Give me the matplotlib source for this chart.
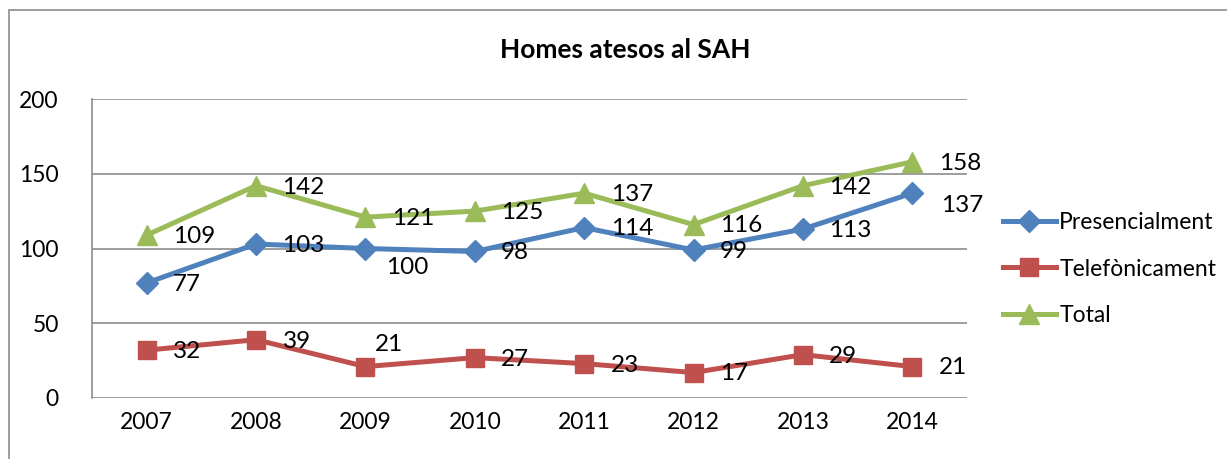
import matplotlib.pyplot as plt
from matplotlib.patches import Rectangle

plt.rcParams['font.family'] = ['Lato', 'DejaVu Sans']

years = ['2007', '2008', '2009', '2010', '2011', '2012', '2013', '2014']
presencial = [77, 103, 100, 98, 114, 99, 113, 137]
telefonic = [32, 39, 21, 27, 23, 17, 29, 21]
total = [109, 142, 121, 125, 137, 116, 142, 158]

W, H = 1227, 459
fig = plt.figure(figsize=(W / 100, H / 100), dpi=100)
ax = fig.add_axes([92 / W, 1 - 398 / H, (967 - 92) / W, (398 - 99) / H])

# outer chart frame (cut at right and bottom like the source)
fig.patches.append(Rectangle((9 / W, -0.1), 1.1, 1 - 10 / H + 0.1, transform=fig.transFigure,
                             fill=False, edgecolor='#8c8c8c', linewidth=1.2))

# a few labels were moved by hand in the original
nudge = {('Presencialment', 2): (15, -14), ('Telefònicament', 2): (7, 16),
         ('Presencialment', 7): (21, -9)}

x = range(len(years))
series = [
    (presencial, 'Presencialment', '#4F81BD', 'D', 11),
    (telefonic, 'Telefònicament', '#C0504D', 's', 13),
    (total, 'Total', '#9BBB59', '^', 14),
]
for vals, name, col, mk, ms in series:
    ax.plot(x, vals, color=col, marker=mk, markersize=ms, linewidth=3.6, label=name,
            solid_joinstyle='round')
    for xi, v in zip(x, vals):
        off = nudge.get((name, xi), (19, -1))
        ax.annotate(str(v), (xi, v), xytext=off, textcoords='offset points',
                    ha='left', va='center', fontsize=17.5, color='black')

ax.set_xlim(-0.5, 7.5)
ax.set_ylim(0, 200)
ax.set_yticks([0, 50, 100, 150, 200])
ax.set_xticks(list(x))
ax.set_xticklabels(years)
ax.tick_params(axis='both', length=0, labelsize=16.5, pad=10)
ax.tick_params(axis='y', pad=24)
ax.grid(axis='y', color='#8c8c8c', linewidth=1.2)
ax.set_axisbelow(True)
for s in ['top', 'right', 'bottom']:
    ax.spines[s].set_visible(False)
ax.spines['left'].set_color('#8c8c8c')
ax.spines['left'].set_linewidth(1.2)

fig.text(625 / W, 1 - 50 / H, 'Homes atesos al SAH', ha='center', va='center',
         fontsize=19, fontweight='bold')

ax.legend(loc='center left', bbox_to_anchor=(1003 / W, 1 - 269 / H), bbox_transform=fig.transFigure,
          frameon=False, fontsize=16.5, handlelength=2.3, handletextpad=0.15, labelspacing=1.1,
          borderaxespad=0, borderpad=0)

fig.savefig('out.png', dpi=100)
